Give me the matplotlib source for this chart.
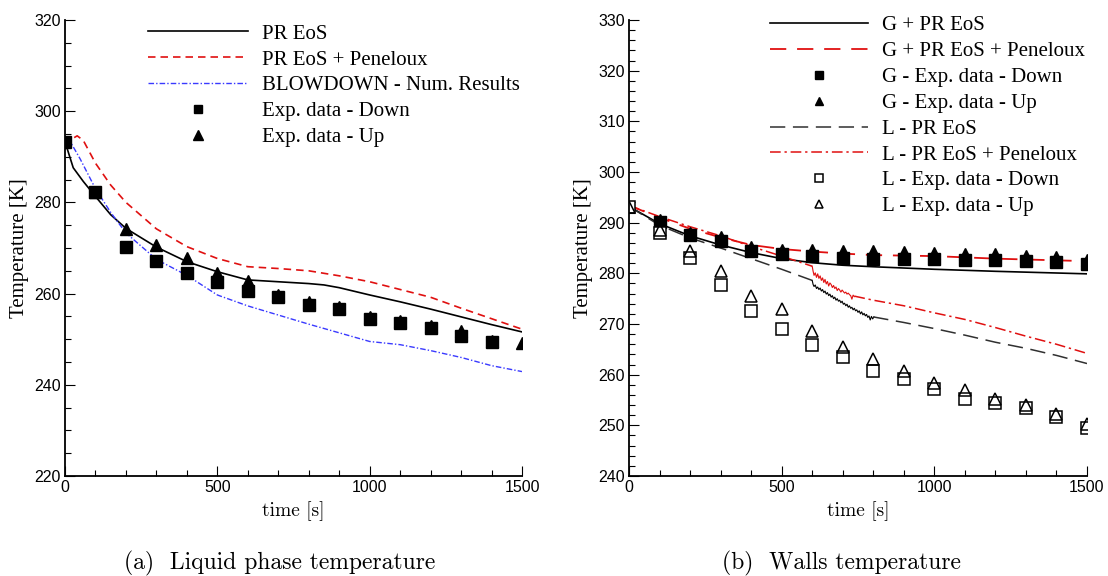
import matplotlib
matplotlib.use("Agg")
import matplotlib.pyplot as plt
from matplotlib.ticker import MultipleLocator

plt.rcParams['font.family'] = 'Liberation Serif'

# ---------------- (a) liquid phase temperature ----------------
pr_t = [0, 27, 60, 100, 150, 200, 300, 400, 500, 600, 700, 800, 850, 900, 1000, 1100, 1200, 1300, 1400, 1500]
pr_T = [293.3, 287.6, 284.6, 281.3, 277.3, 274.3, 270.2, 267.0, 264.8, 263.0, 262.6, 262.2, 261.9, 261.3,
        259.7, 258.2, 256.6, 254.9, 253.2, 251.6]

pen_t = [0, 10, 20, 40, 60, 100, 150, 200, 300, 400, 500, 600, 700, 800, 900, 1000, 1100, 1200, 1300, 1400, 1500]
pen_T = [293.3, 291.3, 293.8, 294.6, 293.6, 288.6, 283.8, 280.0, 274.2, 270.3, 267.7, 265.9, 265.5, 265.0,
         263.9, 262.6, 260.9, 259.2, 256.8, 254.5, 252.2]

blow_t = [0, 20, 50, 100, 150, 200, 300, 400, 500, 600, 700, 800, 900, 1000, 1100, 1200, 1300, 1400, 1500]
blow_T = [293.5, 293.0, 289.5, 283.0, 277.8, 273.3, 267.5, 264.0, 259.7, 257.3, 255.3, 253.3, 251.4, 249.5,
          248.8, 247.5, 246.0, 244.2, 242.9]

down_t = [0, 100, 200, 300, 400, 500, 600, 700, 800, 900, 1000, 1100, 1200, 1300, 1400]
down_T = [293.3, 282.2, 270.3, 267.1, 264.5, 262.5, 260.6, 259.3, 257.6, 256.6, 254.4, 253.5, 252.5, 250.6, 249.3]
up_t = [100, 200, 300, 400, 500, 600, 700, 800, 900, 1000, 1100, 1200, 1300, 1400, 1500]
up_T = [282.3, 274.2, 270.7, 267.7, 264.6, 262.8, 259.8, 258.2, 257.0, 254.9, 254.0, 253.0, 251.7, 249.6, 249.1]

# ---------------- (b) walls temperature ----------------
g_t = [0, 100, 200, 300, 400, 500, 600, 700, 800, 1000, 1200, 1500]
g_pr_T = [293.2, 289.8, 287.4, 285.6, 284.1, 282.9, 282.1, 281.6, 281.3, 280.8, 280.4, 279.9]
g_pen_T = [293.4, 291.0, 288.8, 287.1, 285.6, 284.8, 284.3, 283.9, 283.6, 283.4, 282.9, 282.4]

l_pr_t1 = [0, 100, 200, 300, 400, 500, 600]
l_pr_T1 = [293.2, 289.5, 287.0, 285.0, 282.9, 280.8, 278.6]
l_pr_t2 = [800, 900, 1000, 1100, 1200, 1300, 1400, 1500]
l_pr_T2 = [271.4, 270.3, 269.1, 267.8, 266.4, 265.2, 263.8, 262.2]
l_pr_noise_t = [600, 603, 606, 610, 614, 618, 622, 626, 630, 634, 638, 642, 646, 650, 654, 658, 662, 666,
                670, 674, 678, 682, 686, 690, 694, 698, 702, 706, 710, 714, 718, 722, 726, 730, 734, 738,
                742, 746, 750, 754, 758, 762, 766, 770, 774, 778, 782, 786, 790, 794, 798, 802]
l_pr_noise_T = [278.6, 277.8, 277.4, 277.7, 277.0, 277.3, 276.8, 277.1, 276.5, 276.8, 276.2, 276.5, 275.9,
                276.2, 275.6, 275.9, 275.3, 275.6, 275.0, 275.3, 274.7, 275.0, 274.5, 274.7, 274.2, 274.5,
                273.9, 274.1, 273.6, 273.9, 273.3, 273.6, 273.1, 273.3, 272.8, 273.1, 272.6, 272.8, 272.3,
                272.6, 272.0, 272.4, 271.8, 272.1, 271.6, 271.9, 271.3, 271.6, 270.8, 271.5, 271.0, 271.4]

l_pen_t1 = [0, 100, 200, 300, 400, 500, 600]
l_pen_T1 = [293.4, 291.2, 289.2, 287.4, 285.3, 283.4, 281.4]
l_pen_t2 = [738, 800, 900, 1000, 1100, 1200, 1300, 1400, 1500]
l_pen_T2 = [275.5, 274.7, 273.6, 272.2, 270.9, 269.3, 267.6, 266.0, 264.2]
l_pen_noise_t = [600, 603, 606, 610, 614, 618, 622, 626, 630, 634, 638, 642, 646, 650, 654, 658, 662, 666,
                 670, 674, 678, 682, 686, 690, 694, 698, 702, 706, 710, 714, 718, 722, 726, 730, 734, 738]
l_pen_noise_T = [281.4, 280.4, 279.6, 280.1, 279.2, 279.9, 279.0, 279.5, 278.6, 279.1, 278.2, 278.8, 277.9,
                 278.4, 277.5, 278.1, 277.8, 277.2, 277.6, 277.0, 277.3, 276.6, 277.0, 276.7, 276.3, 276.7,
                 276.4, 276.1, 276.3, 275.9, 276.1, 275.8, 275.6, 274.9, 275.7, 275.4]

exp_t = [0, 100, 200, 300, 400, 500, 600, 700, 800, 900, 1000, 1100, 1200, 1300, 1400, 1500]
g_down_T = [290.2, 287.5, 286.4, 284.4, 283.8, 283.4, 283.1, 282.9, 282.8, 282.8, 282.6, 282.6, 282.4, 282.3, 281.9]
g_up_T = [290.5, 288.0, 287.2, 285.1, 284.7, 284.7, 284.5, 284.5, 284.2, 284.1, 283.9, 283.75, 283.4, 283.2, 282.6]
l_down_T = [293.1, 287.9, 283.1, 277.6, 272.6, 269.1, 265.8, 263.5, 260.7, 259.1, 257.2, 255.1, 254.5, 253.5,
            251.6, 249.5]
l_up_T = [293.1, 288.6, 284.4, 280.5, 275.5, 273.0, 268.6, 265.5, 263.0, 260.7, 258.4, 256.9, 255.1, 254.1,
          252.3, 250.3]

RED = '#e01010'
BLUE = '#3a3aff'

fig = plt.figure(figsize=(11.08, 5.76), dpi=100)
ax1 = fig.add_axes([65 / 1108, 1 - 476 / 576, 457 / 1108, 456 / 576])
ax2 = fig.add_axes([629 / 1108, 1 - 476 / 576, 458 / 1108, 456 / 576])


def style(ax):
    for s in ('top', 'right'):
        ax.spines[s].set_visible(False)
    for s in ('left', 'bottom'):
        ax.spines[s].set_linewidth(1.3)
    ax.tick_params(which='both', direction='in', width=0.8, labelsize=11.5,
                   labelfontfamily='Liberation Sans', pad=3)
    ax.tick_params(which='major', length=7)
    ax.tick_params(which='minor', length=4)
    ax.xaxis.set_major_locator(MultipleLocator(500))
    ax.xaxis.set_minor_locator(MultipleLocator(100))
    ax.set_xlim(0, 1500)
    ax.set_xlabel('time [s]', fontfamily='cmr10', fontsize=14, labelpad=4)
    ax.set_ylabel('Temperature [K]', fontsize=15, labelpad=4)


# ---- left
style(ax1)
ax1.set_ylim(220, 320)
ax1.yaxis.set_major_locator(MultipleLocator(20))
ax1.yaxis.set_minor_locator(MultipleLocator(5))
ax1.plot(pr_t, pr_T, color='black', lw=1.2, label='PR EoS')
ax1.plot(pen_t, pen_T, color=RED, lw=1.2, ls=(0, (4.5, 3)), label='PR EoS + Peneloux')
ax1.plot(blow_t, blow_T, color=BLUE, lw=1.0, ls=(0, (4, 1.5, 1, 1.5)), label='BLOWDOWN - Num. Results')
ax1.plot(down_t, down_T, ls='none', marker='s', ms=8.5, color='black', label='Exp. data - Down')
ax1.plot(up_t, up_T, ls='none', marker='^', ms=9, color='black', label='Exp. data - Up')
ax1.legend(loc='upper left', bbox_to_anchor=(0.182, 0.991), frameon=False, fontsize=15,
           handlelength=4.8, handletextpad=0.65, labelspacing=0.3, borderpad=0, borderaxespad=0,
           markerscale=0.75)

# ---- right
style(ax2)
ax2.set_ylim(240, 330)
ax2.yaxis.set_major_locator(MultipleLocator(10))
ax2.yaxis.set_minor_locator(MultipleLocator(2))
h1, = ax2.plot(g_t, g_pr_T, color='black', lw=1.2, label='G + PR EoS')
h2, = ax2.plot(g_t, g_pen_T, color=RED, lw=1.3, ls=(0, (9, 6)), label='G + PR EoS + Peneloux')
h5, = ax2.plot(l_pr_t1, l_pr_T1, color='#303030', lw=1.1, ls=(0, (10, 5)), label='L - PR EoS')
ax2.plot(l_pr_noise_t, l_pr_noise_T, color='black', lw=0.8)
ax2.plot(l_pr_t2, l_pr_T2, color='#303030', lw=1.1, ls=(0, (10, 5)))
h6, = ax2.plot(l_pen_t1, l_pen_T1, color=RED, lw=1.1, ls=(0, (7, 2.5, 1.5, 2.5)), label='L - PR EoS + Peneloux')
ax2.plot(l_pen_noise_t, l_pen_noise_T, color=RED, lw=0.8)
ax2.plot(l_pen_t2, l_pen_T2, color=RED, lw=1.1, ls=(0, (7, 2.5, 1.5, 2.5)))
h3, = ax2.plot(exp_t[1:], g_down_T, ls='none', marker='s', ms=8, color='black', label='G - Exp. data - Down')
h4, = ax2.plot(exp_t[1:], g_up_T, ls='none', marker='^', ms=8.5, color='black', label='G - Exp. data - Up')
h7, = ax2.plot(exp_t, l_down_T, ls='none', marker='s', ms=8, mfc='white', mec='black', mew=1.1,
               label='L - Exp. data - Down')
h8, = ax2.plot(exp_t, l_up_T, ls='none', marker='^', ms=8.5, mfc='none', mec='black', mew=1.1,
               label='L - Exp. data - Up')
ax2.legend(handles=[h1, h2, h3, h4, h5, h6, h7, h8], loc='upper left', bbox_to_anchor=(0.308, 1.009),
           frameon=False, fontsize=15, handlelength=4.7, handletextpad=0.65, labelspacing=0.3,
           borderpad=0, borderaxespad=0, markerscale=0.75)

fig.text(280 / 1108, 1 - 563 / 576, '(a)  Liquid phase temperature', fontfamily='cmr10', fontsize=17,
         ha='center', va='center')
fig.text(841 / 1108, 1 - 563 / 576, '(b)  Walls temperature', fontfamily='cmr10', fontsize=17,
         ha='center', va='center')

fig.savefig('out.png', dpi=100)
